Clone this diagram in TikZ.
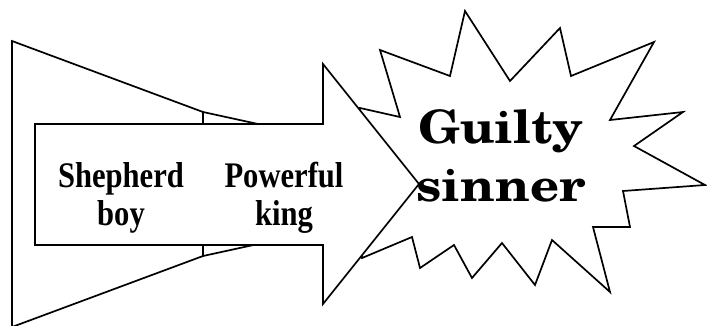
\documentclass[tikz,border=0pt]{standalone}
\usepackage{fontspec}
\usepackage{graphicx}
\setmainfont{Liberation Serif}
\newfontfamily\scholafont{texgyreschola-bold.otf}
\newcommand\sqtext[2]{\scalebox{#1}[1]{\begin{tabular}{@{}c@{}}#2\end{tabular}}}
\tikzset{
  outline/.style={draw=black, line width=1.7pt, fill=white, line join=miter},
  lbl/.style={inner sep=0pt, anchor=center, font=\fontsize{36}{38}\selectfont\bfseries},
  biglbl/.style={inner sep=0pt, anchor=center, font=\fontsize{46}{58}\scholafont}
}
\begin{document}
\begin{tikzpicture}[x=1pt,y=-1pt]
\useasboundingbox (0,0) rectangle (707,325);
\clip (0,0) rectangle (707,325);
% megaphone trapezoids
\draw[outline] (12,41) -- (203,112) -- (203,256) -- (12,327) -- cycle;
\draw[outline] (203,112) -- (320,137.5) -- (320,230.5) -- (203,256) -- cycle;
% starburst
\draw[outline] (360,108) -- (400,117) -- (380,50) -- (450,76) -- (465,11) -- (510,81)
  -- (560,28) -- (571,76) -- (654,42) -- (610,120) -- (683,112) -- (634,146)
  -- (705,185) -- (623,191) -- (630,227) -- (593,227) -- (610,292) -- (552,240)
  -- (535,285) -- (502,243) -- (472,278) -- (454,245) -- (420,268) -- (412,237)
  -- (362,258) -- (350,184) -- cycle;
% arrow
\draw[outline] (35,124) -- (323,124) -- (323,64) -- (419,184) -- (323,304)
  -- (323,245) -- (35,245) -- cycle;
% labels
\node[lbl] (shep) at (121,198.4) {\sqtext{0.85}{Shepherd\\boy}};
\node[lbl] (king) at (284,198.4) {\sqtext{0.85}{Powerful\\king}};
\node[biglbl] (sinner) at (501,161) {\sqtext{1.1}{Guilty\\sinner}};
\end{tikzpicture}
\end{document}
